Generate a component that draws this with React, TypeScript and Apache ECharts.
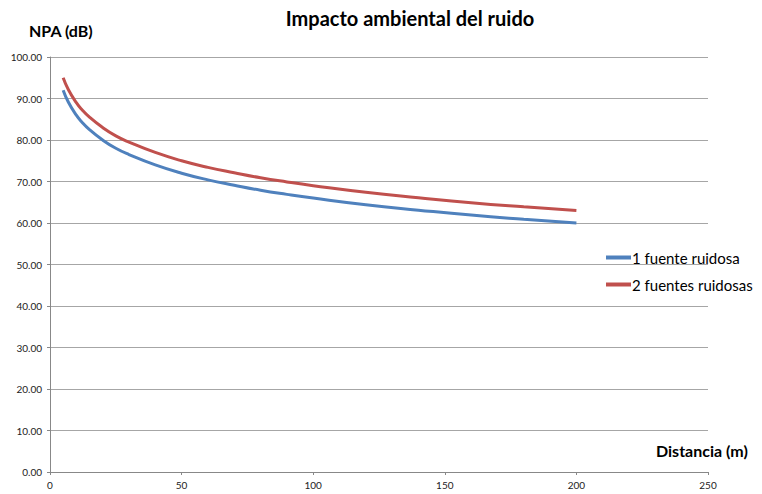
import React, { useEffect, useRef } from "react";
import * as echarts from "echarts";

const distances = [5, 7, 10, 12, 15, 20, 25, 30, 40, 50, 60, 70, 80, 90, 100, 120, 140, 160, 180, 200];
const oneSource = [92.0, 89.1, 86.0, 84.4, 82.5, 80.0, 78.0, 76.5, 74.0, 72.0, 70.4, 69.1, 67.9, 66.9, 66.0, 64.4, 63.1, 61.9, 60.9, 60.0];
const twoSources = [95.0, 92.1, 89.0, 87.4, 85.5, 83.0, 81.0, 79.5, 77.0, 75.0, 73.4, 72.1, 70.9, 69.9, 69.0, 67.4, 66.1, 64.9, 63.9, 63.0];
const seriesNames = ["1 fuente ruidosa", "2 fuentes ruidosas"];
const titleText = "Impacto ambiental del ruido";
const yAxisTitle = "NPA (dB)";
const xAxisTitle = "Distancia (m)";

const FONT = "Lato, 'Open Sans', sans-serif";

export default function App() {
  const ref = useRef<HTMLDivElement>(null);
  useEffect(() => {
    if (!ref.current) return;
    const chart = echarts.init(ref.current, undefined, { renderer: "svg" });
    chart.setOption({
      animation: false,
      backgroundColor: "#ffffff",
      textStyle: { fontFamily: FONT },
      title: {
        text: titleText,
        left: 405,
        top: 3,
        textAlign: "center",
        textStyle: { fontFamily: FONT, fontSize: 20, fontWeight: "bold", color: "#000" },
      },
      legend: {
        orient: "vertical",
        left: 601,
        top: 245,
        itemGap: 12,
        itemWidth: 25,
        itemHeight: 4,
        icon: "rect",
        textStyle: { fontFamily: FONT, fontSize: 15, color: "#000", padding: [0, 0, 0, -4] },
        data: seriesNames,
      },
      grid: { left: 50, right: 54, top: 57, bottom: 22, containLabel: false },
      xAxis: {
        type: "value",
        min: 0,
        max: 250,
        interval: 50,
        axisLine: { show: true, lineStyle: { color: "#888", width: 1 } },
        axisTick: { show: true, length: 3, lineStyle: { color: "#888" } },
        axisLabel: { fontFamily: FONT, fontSize: 10, color: "#222", margin: 8 },
        splitLine: { show: false },
      },
      yAxis: {
        type: "value",
        min: 0,
        max: 100,
        interval: 10,
        axisLine: { show: true, lineStyle: { color: "#888", width: 1 } },
        axisTick: { show: true, length: 3, lineStyle: { color: "#888" } },
        axisLabel: {
          fontFamily: FONT,
          fontSize: 10,
          color: "#222",
          margin: 8,
          formatter: (v: number) => v.toFixed(2),
        },
        splitLine: { show: true, lineStyle: { color: "#a6a6a6", width: 1 } },
      },
      graphic: [
        {
          type: "text",
          left: 29,
          top: 22,
          style: { text: yAxisTitle, fontFamily: FONT, fontSize: 16, fontWeight: "bold", fill: "#000" },
        },
        {
          type: "text",
          left: 656,
          top: 442,
          style: { text: xAxisTitle, fontFamily: FONT, fontSize: 16, fontWeight: "bold", fill: "#000" },
        },
      ],
      series: [
        {
          name: seriesNames[0],
          type: "line",
          smooth: true,
          showSymbol: false,
          lineStyle: { color: "#4F81BD", width: 3 },
          itemStyle: { color: "#4F81BD" },
          data: distances.map((d, i) => [d, oneSource[i]]),
        },
        {
          name: seriesNames[1],
          type: "line",
          smooth: true,
          showSymbol: false,
          lineStyle: { color: "#C0504D", width: 3 },
          itemStyle: { color: "#C0504D" },
          data: distances.map((d, i) => [d, twoSources[i]]),
        },
      ],
    });
    return () => chart.dispose();
  }, []);
  return <div ref={ref} style={{ width: 762, height: 494, position: "absolute", left: 0, top: 0 }} />;
}
